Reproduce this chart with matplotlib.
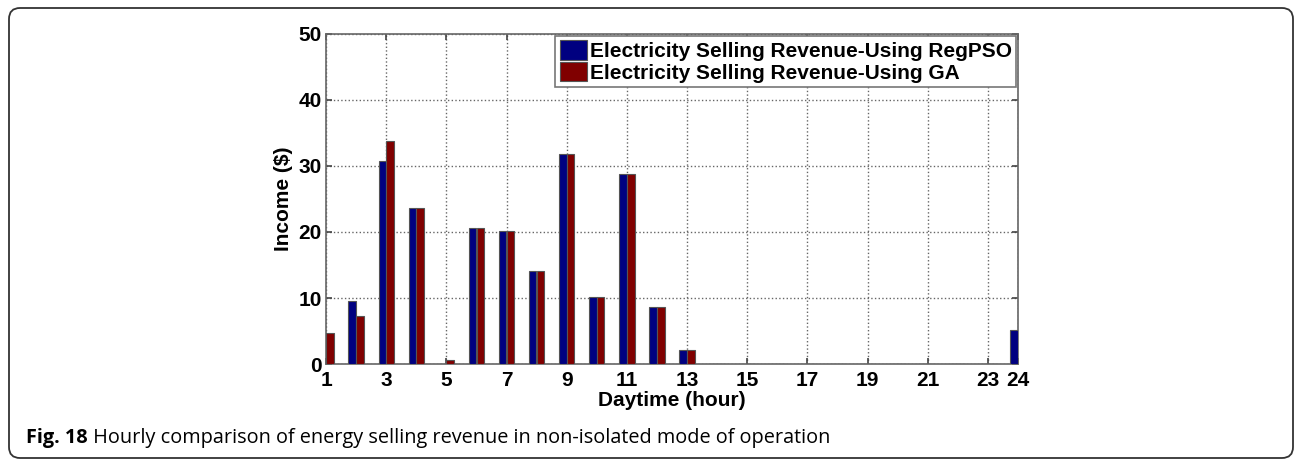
import numpy as np
import matplotlib.pyplot as plt
from matplotlib.patches import FancyBboxPatch

hours = np.arange(1, 25)
regpso = [0, 9.6, 30.8, 23.6, 0, 20.6, 20.1, 14.1, 31.8, 10.2, 28.8, 8.6, 2.1,
          0, 0, 0, 0, 0, 0, 0, 0, 0, 0, 5.2]
ga = [4.7, 7.2, 33.8, 23.6, 0.6, 20.6, 20.1, 14.1, 31.8, 10.2, 28.8, 8.6, 2.1,
      0, 0, 0, 0, 0, 0, 0, 0, 0, 0, 0]
xticks = [1, 3, 5, 7, 9, 11, 13, 15, 17, 19, 21, 23, 24]
labels = ["Electricity Selling Revenue-Using RegPSO",
          "Electricity Selling Revenue-Using GA"]

plt.rcParams['font.family'] = ['Liberation Sans', 'DejaVu Sans']

W, H = 1296, 461
fig = plt.figure(figsize=(W / 100, H / 100), dpi=100)
# axes box in pixels: left 326, right 1018, top 34, bottom 364
ax = fig.add_axes([326 / W, 1 - 364 / H, (1018 - 326) / W, (364 - 34) / H])

w = 0.25
ax.bar(hours - 0.13, regpso, width=w, color='#000080', edgecolor='#555555',
       linewidth=0.8, label=labels[0], zorder=3)
ax.bar(hours + 0.13, ga, width=w, color='#800000', edgecolor='#555555',
       linewidth=0.8, label=labels[1], zorder=3)

ax.set_xlim(1, 24)
ax.set_ylim(0, 50)
ax.set_xticks(xticks)
ax.set_yticks(range(0, 51, 10))
ax.tick_params(direction='in', top=True, right=True, labelsize=15, length=4,
               width=1.2, color='#444444')
ax.tick_params(axis='x', pad=5)
ax.tick_params(axis='y', pad=3)
for t in ax.get_xticklabels() + ax.get_yticklabels():
    t.set_fontweight('bold')
ax.grid(True, linestyle=':', color='#666666', linewidth=1.0, zorder=0)
for s in ax.spines.values():
    s.set_color('#666666')
    s.set_linewidth(1.2)

ax.set_xlabel("Daytime (hour)", fontsize=15, fontweight='bold', labelpad=1)
ax.set_ylabel("Income ($)", fontsize=15, fontweight='bold', labelpad=4)

leg = ax.legend(loc='upper right', prop={'weight': 'bold', 'size': 15},
                fancybox=False, framealpha=1, edgecolor='#777777',
                handlelength=1.3, handleheight=1.05, handletextpad=0.15,
                borderpad=0.2, labelspacing=0.05, borderaxespad=0.1)
leg.get_frame().set_linewidth(1.2)

# caption and rounded border
cap = fig.text(26 / W, 1 - 443 / H, "Fig. 18", fontsize=14.3,
               fontweight='bold', family='Open Sans', va='baseline')
ax.annotate(" Hourly comparison of energy selling revenue in non-isolated mode of operation",
            xy=(1, 0), xycoords=cap, va='bottom', ha='left', fontsize=14.3,
            family='Open Sans', annotation_clip=False)

box = FancyBboxPatch((9, H - 458), 1284, 450, boxstyle="round,pad=0,rounding_size=11",
                     transform=None, facecolor='none', edgecolor='#333333',
                     linewidth=1.3)
fig.patches.append(box)

fig.savefig("out.png", dpi=100)
